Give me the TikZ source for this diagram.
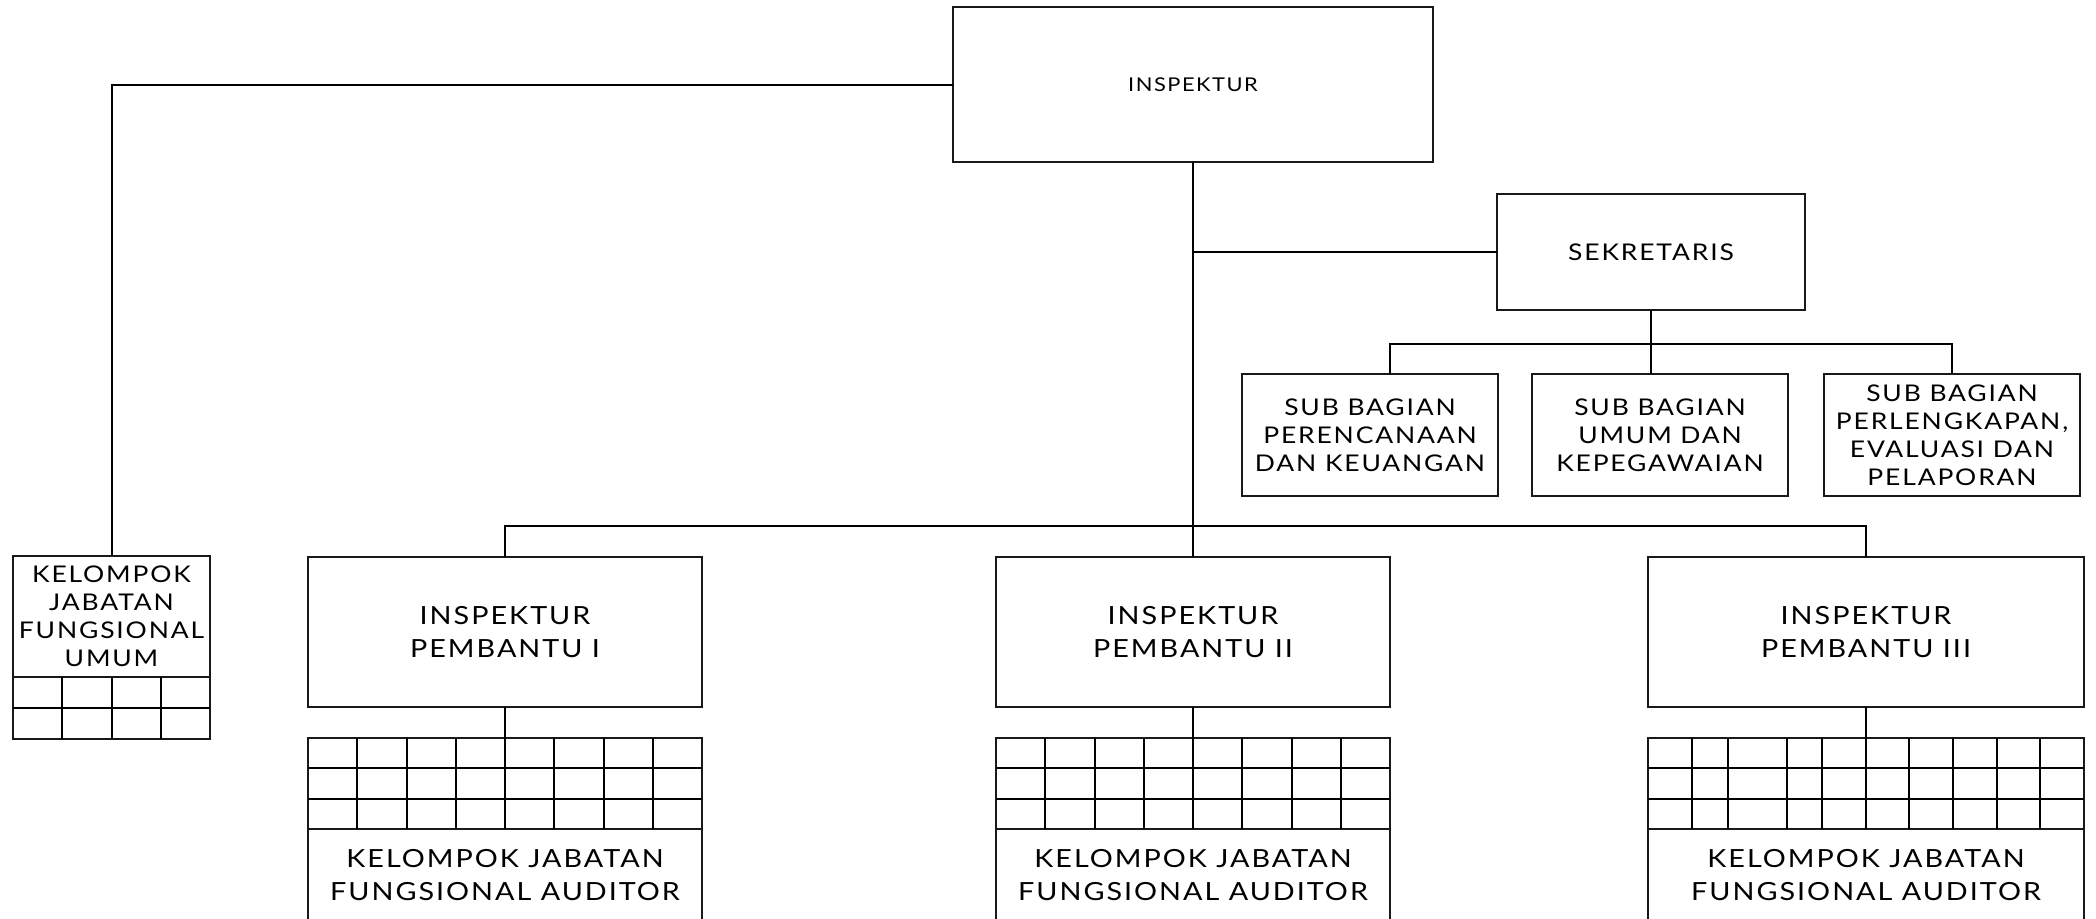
\documentclass[tikz,border=0pt]{standalone}
\usepackage{fontspec}
\setmainfont{Lato}[FakeStretch=1.15, LetterSpace=8]
\usepackage{tikz}
\usetikzlibrary{positioning}
\usetikzlibrary{calc}

\begin{document}
\begin{tikzpicture}[x=0.5pt, y=-0.5pt, -, line width=1pt,
	every node/.style={outer sep=0pt},
	org box/.style={draw=black!90, fill=white, rectangle, inner sep=0pt, align=center},
	top text/.style={font=\fontsize{9.5}{13}\selectfont},
	head text/.style={font=\fontsize{11.5}{13}\selectfont},
	big text/.style={font=\fontsize{12.5}{16.5}\selectfont},
	small text/.style={font=\fontsize{11.5}{14}\selectfont},
	unit box/.style={org box, big text, minimum width=197pt, minimum height=75pt},
	sub box/.style={org box, small text, minimum width=128pt, minimum height=61pt},
	grid box/.style={org box, minimum width=197pt, minimum height=45.5pt},
	group box/.style={org box, big text, minimum width=197pt, minimum height=46pt}]

  \clip (0,0) rectangle (2096,918);

  % pimpinan
  \node[org box, top text, minimum width=240pt, minimum height=77.5pt] (insp) at (1193,84.5) {INSPEKTUR};
  \node[org box, head text, minimum width=154pt, minimum height=58pt] (sek) at (1651,252) {SEKRETARIS};

  % sub bagian sekretariat
  \node[sub box] (sb1) at (1370,435) {SUB BAGIAN\\PERENCANAAN\\DAN KEUANGAN};
  \node[sub box] (sb2) at (1660,435) {SUB BAGIAN\\UMUM DAN\\KEPEGAWAIAN};
  \node[sub box] (sb3) at (1952,435) {SUB BAGIAN\\PERLENGKAPAN,\\EVALUASI DAN\\PELAPORAN};

  % inspektur pembantu
  \node[unit box] (ip1) at (505,632) {INSPEKTUR\\PEMBANTU I};
  \node[unit box] (ip2) at (1193,632) {INSPEKTUR\\PEMBANTU II};
  \node[unit box, minimum width=218pt] (ip3) at (1866,632) {INSPEKTUR\\PEMBANTU III};

  % kelompok jabatan fungsional
  \node[grid box] (g1) [below=15.5pt of ip1] {};
  \node[grid box] (g2) [below=15.5pt of ip2] {};
  \node[grid box, minimum width=218pt] (g3) [below=15.5pt of ip3] {};
  \node[group box] (kf1) [below=0pt of g1] {KELOMPOK JABATAN\\FUNGSIONAL AUDITOR};
  \node[group box] (kf2) [below=0pt of g2] {KELOMPOK JABATAN\\FUNGSIONAL AUDITOR};
  \node[group box, minimum width=218pt] (kf3) [below=0pt of g3] {KELOMPOK JABATAN\\FUNGSIONAL AUDITOR};

  \node[org box, small text, minimum width=98.5pt, minimum height=60.5pt] (kfu) at (111.5,616.5) {KELOMPOK\\JABATAN\\FUNGSIONAL\\UMUM};
  \node[org box, minimum width=98.5pt, minimum height=31pt] (gu) [below=0pt of kfu] {};

  % kotak-kotak anggota
  \foreach \g in {g1,g2} {
    \foreach \i in {1,...,7}
      \draw ($(\g.north west)!\i/8!(\g.north east)$) -- ($(\g.south west)!\i/8!(\g.south east)$);
  }
  \foreach \c in {44,80,139,174,218,261,305,349,392}
    \draw ([xshift={\c*0.5pt}]g3.north west) -- ([xshift={\c*0.5pt}]g3.south west);
  \foreach \g in {g1,g2,g3}
    \foreach \j in {1,2}
      \draw ($(\g.north west)!\j/3!(\g.south west)$) -- ($(\g.north east)!\j/3!(\g.south east)$);
  \foreach \i in {1,2,3}
    \draw ($(gu.north west)!\i/4!(gu.north east)$) -- ($(gu.south west)!\i/4!(gu.south east)$);
  \draw (gu.west) -- (gu.east);

  % garis komando
  \coordinate (bar) at (0,526);
  \coordinate (sbbar) at (0,344);
  \draw (insp.west) -| (kfu.north);
  \path (insp.south) edge (ip2.north);
  \draw (ip1.north) -- (ip1.north |- bar) -| (ip3.north);
  \draw (sek.west) -- (sek.west -| insp.south);
  \draw (sek.south) -- (sek.south |- sb2.north);
  \draw ([xshift=10pt]sb1.north) -- ([xshift=10pt]sb1.north |- sbbar) -| (sb3.north);
  \path (ip1) edge (g1) (ip2) edge (g2) (ip3) edge (g3);
\end{tikzpicture}
\end{document}
